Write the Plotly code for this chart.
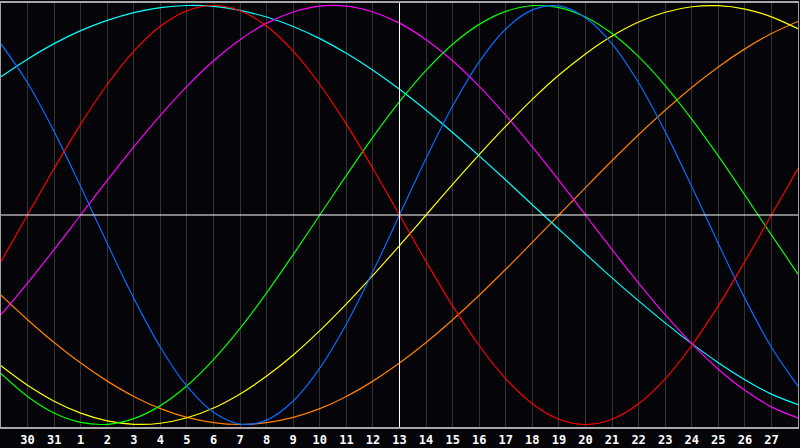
import plotly.graph_objects as go

# Day labels for each daily sample (previous month 29..31, then 1..28)
DAY_LABELS = ["29", "30", "31"] + [str(d) for d in range(1, 29)]
CENTER_DAY_INDEX = 15  # day "13"

# Daily values (-1..1)
physical = [0.817, 0.631, 0.398, 0.136, -0.136, -0.398, -0.631, -0.817, -0.942, -0.998,
            -0.979, -0.888, -0.731, -0.520, -0.270, 0.0, 0.270, 0.520, 0.731, 0.888,
            0.979, 0.998, 0.942, 0.817, 0.631, 0.398, 0.136, -0.136, -0.398, -0.631, -0.817]
emotional = [-0.222, 0.0, 0.222, 0.434, 0.623, 0.782, 0.901, 0.975, 1.0, 0.975,
             0.901, 0.782, 0.623, 0.434, 0.222, 0.0, -0.222, -0.434, -0.623, -0.782,
             -0.901, -0.975, -1.0, -0.975, -0.901, -0.782, -0.623, -0.434, -0.222, 0.0, 0.222]
intellectual = [-0.756, -0.866, -0.945, -0.990, -0.999, -0.972, -0.910, -0.815, -0.690, -0.541,
                -0.372, -0.189, 0.0, 0.189, 0.372, 0.541, 0.690, 0.815, 0.910, 0.972,
                0.999, 0.990, 0.945, 0.866, 0.756, 0.618, 0.458, 0.282, 0.095, -0.095, -0.282]
intuitive = [-0.476, -0.325, -0.165, 0.0, 0.165, 0.325, 0.476, 0.614, 0.736, 0.837,
             0.916, 0.969, 0.997, 0.997, 0.969, 0.916, 0.837, 0.736, 0.614, 0.476,
             0.325, 0.165, 0.0, -0.165, -0.325, -0.476, -0.614, -0.736, -0.837, -0.916, -0.969]
aesthetic = [-0.720, -0.813, -0.889, -0.946, -0.983, -0.999, -0.994, -0.968, -0.921, -0.854,
             -0.769, -0.668, -0.552, -0.424, -0.288, -0.146, 0.0, 0.146, 0.288, 0.424,
             0.552, 0.668, 0.769, 0.854, 0.921, 0.968, 0.994, 0.999, 0.983, 0.946, 0.889]
awareness = [-0.383, -0.500, -0.609, -0.707, -0.793, -0.866, -0.924, -0.966, -0.991, -1.0,
             -0.991, -0.966, -0.924, -0.866, -0.793, -0.707, -0.609, -0.500, -0.383, -0.259,
             -0.131, 0.0, 0.131, 0.259, 0.383, 0.500, 0.609, 0.707, 0.793, 0.866, 0.924]
spiritual = [0.660, 0.744, 0.818, 0.880, 0.929, 0.966, 0.990, 1.0, 0.996, 0.977,
             0.945, 0.900, 0.842, 0.772, 0.691, 0.600, 0.500, 0.394, 0.282, 0.167,
             0.049, -0.068, -0.185, -0.300, -0.410, -0.515, -0.614, -0.705, -0.786, -0.855, -0.905]

SERIES = [
    ("Awareness", awareness, "#ff8000"),
    ("Aesthetic", aesthetic, "#ffff00"),
    ("Spiritual", spiritual, "#00ffff"),
    ("Intuitive", intuitive, "#ff00ff"),
    ("Intellectual", intellectual, "#00ff00"),
    ("Physical", physical, "#0a6aff"),
    ("Emotional", emotional, "#ff0000"),
]

x = list(range(len(DAY_LABELS)))

fig = go.Figure()
for name, vals, color in SERIES:
    fig.add_trace(go.Scatter(x=x, y=vals, mode="lines", name=name,
                             line=dict(color=color, width=1.2, shape="spline"),
                             hoverinfo="skip"))

BG = "#050408"
fig.update_layout(
    width=800, height=448,
    margin=dict(l=1, r=1, t=1, b=20, pad=0),
    paper_bgcolor=BG, plot_bgcolor=BG,
    showlegend=False,
    xaxis=dict(range=[0, len(DAY_LABELS) - 1], tickvals=x[1:-1], ticktext=DAY_LABELS[1:-1],
               showgrid=True, gridcolor="#333333", gridwidth=1, zeroline=False,
               showline=True, mirror=True, linecolor="#a8a8a8", linewidth=1.5,
               ticks="", ticklabelstandoff=1,
               tickfont=dict(family="DejaVu Sans Mono", size=12, color="#ffffff", weight="bold"),
               fixedrange=True),
    yaxis=dict(range=[-1.012, 1.012], showgrid=False, zeroline=False,
               showticklabels=False, ticks="",
               showline=True, mirror=True, linecolor="#a0a0a0", linewidth=1,
               fixedrange=True),
    shapes=[
        dict(type="line", xref="x", yref="paper", x0=CENTER_DAY_INDEX, x1=CENTER_DAY_INDEX,
             y0=0, y1=1, line=dict(color="#ffffff", width=1), layer="above"),
        dict(type="line", xref="paper", yref="y", x0=0, x1=1, y0=0, y1=0,
             line=dict(color="#ffffff", width=1), layer="above"),
    ],
)

fig.write_html(
    "out.html",
    config={"displayModeBar": False},
    post_script="document.body.style.margin='0';document.body.style.background='%s';" % BG,
)
